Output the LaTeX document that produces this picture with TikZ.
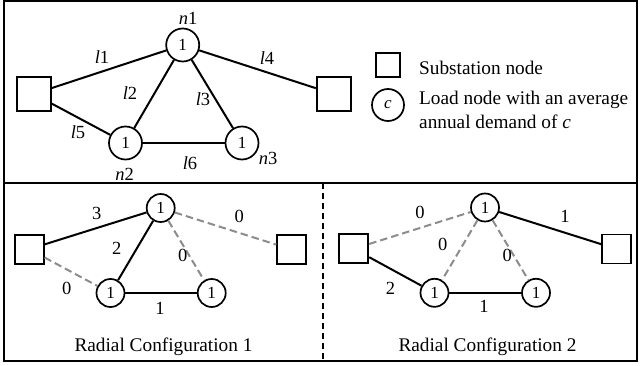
\documentclass[tikz,border=0pt]{standalone}
\usepackage{fontspec}
\setmainfont{Liberation Serif}
\begin{document}
\begin{tikzpicture}[x=1pt,y=-1pt,
  frame/.style={line width=1.5pt},
  sepline/.style={line width=1.3pt, dash pattern=on 6pt off 4pt},
  sub/.style={draw, rectangle, line width=1.8pt, minimum size=34pt, inner sep=0pt},
  subs/.style={sub, minimum size=29pt},
  load/.style={draw, circle, line width=1.7pt, minimum size=33pt, inner sep=0pt, font=\fontsize{17}{17}\selectfont},
  loads/.style={load, minimum size=28pt},
  lbl/.style={inner sep=0pt, font=\fontsize{18.5}{18.5}\selectfont},
  txt/.style={inner sep=0pt, font=\fontsize{19.3}{24.7}\selectfont},
  ed/.style={line width=2pt},
  off/.style={line width=2pt, color=black!45, dash pattern=on 7.5pt off 4pt}]
\useasboundingbox (0,0) rectangle (640,366);
% frames
\draw[frame] (4,1) rectangle (637,361);
\draw[frame] (4,183) -- (637,183);
\coordinate (septop) at (323,183);
\coordinate (sepbot) at (323,361);
\draw[sepline] (septop) -- (sepbot);

% ---------- top panel ----------
\node[sub] (A) at (33.7,94) {};
\node[sub] (B) at (333.7,94) {};
\node[load] (n1) at (182.7,45) {1};
\node[load] (n2) at (125.5,143) {1};
\node[load] (n3) at (242,143) {1};
\draw[ed] (A) -- (n1);
\draw[ed] (n1) -- (B);
\draw[ed] (n1) -- (n2);
\draw[ed] (n1) -- (n3);
\draw[ed] (A) -- (n2);
\draw[ed] (n2) -- (n3);
\node[lbl] (tn1) at (188,18.5) {\textit{n}1};
\node[lbl] (tn2) at (124.5,174.5) {\textit{n}2};
\node[lbl] (tn3) at (268,158) {\textit{n}3};
\node[lbl] (tl1) at (102,57) {\textit{l}1};
\node[lbl] (tl2) at (130,93) {\textit{l}2};
\node[lbl] (tl3) at (203,99) {\textit{l}3};
\node[lbl] (tl4) at (267,58) {\textit{l}4};
\node[lbl] (tl5) at (78,132) {\textit{l}5};
\node[lbl] (tl6) at (190,163) {\textit{l}6};

% legend
\node[sub, minimum size=24pt] (legS) at (388,65) {};
\node[load, minimum size=32pt] (legC) at (388,105) {\textit{c}};
\node[txt, anchor=base west] (legT1) at (419,75) {Substation node};
\node[txt, anchor=base west] (legT2) at (419,104.3) {Load node with an average};
\node[txt, anchor=base west] (legT3) at (419,129) {annual demand of \textit{c}};

% ---------- bottom left: configuration 1 ----------
\node[subs] (aA) at (29.2,249.2) {};
\node[subs] (aB) at (291.7,249.5) {};
\node[loads] (an1) at (160.7,208) {1};
\node[loads] (an2) at (110.5,293) {1};
\node[loads] (an3) at (211.7,293) {1};
\draw[ed] (aA) -- (an1);
\draw[ed] (an1) -- (an2);
\draw[ed] (an2) -- (an3);
\draw[off] (aA) -- (an2);
\draw[off] (an1) -- (an3);
\draw[off] (an1) -- (aB);
\node[lbl] (al1) at (96.7,213) {3};
\node[lbl] (al2) at (116.7,248) {2};
\node[lbl] (al3) at (182.7,255) {0};
\node[lbl] (al4) at (239.3,216) {0};
\node[lbl] (al5) at (66.7,288) {0};
\node[lbl] (al6) at (160,308) {1};
\node[txt, anchor=base] (atitle) at (163.5,351.7) {Radial Configuration 1};

% ---------- bottom right: configuration 2 ----------
\node[subs] (bA) at (353.8,248.8) {};
\node[subs] (bB) at (616.5,249) {};
\node[loads] (bn1) at (485,207.5) {1};
\node[loads] (bn2) at (434.5,292.8) {1};
\node[loads] (bn3) at (536,292.8) {1};
\draw[ed] (bA) -- (bn2);
\draw[ed] (bn2) -- (bn3);
\draw[ed] (bn1) -- (bB);
\draw[off] (bA) -- (bn1);
\draw[off] (bn1) -- (bn2);
\draw[off] (bn1) -- (bn3);
\node[lbl] (bl1) at (420,212) {0};
\node[lbl] (bl2) at (442.7,244) {0};
\node[lbl] (bl3) at (507.3,255) {0};
\node[lbl] (bl4) at (565,216.5) {1};
\node[lbl] (bl5) at (390.5,288.3) {2};
\node[lbl] (bl6) at (484,306) {1};
\node[txt, anchor=base] (btitle) at (487.5,351.7) {Radial Configuration 2};
\end{tikzpicture}
\end{document}
